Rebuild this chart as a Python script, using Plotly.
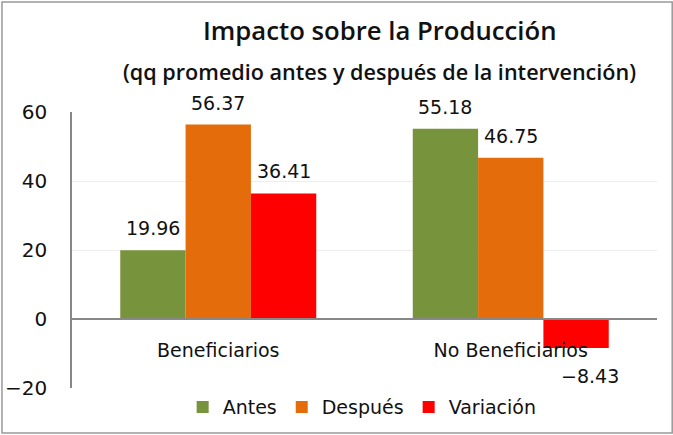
import plotly.graph_objects as go

categories = ["Beneficiarios", "No Beneficiarios"]
antes = [19.96, 55.18]
despues = [56.37, 46.75]
variacion = [36.41, -8.43]
series_names = ["Antes", "Después", "Variación"]
colors = ["#77933C", "#E46C0A", "#FF0000"]
y_ticks = [-20, 0, 20, 40, 60]

FONT = "DejaVu Sans"
BARGAP = 0.33


def fmt(v):
    return f"{v:.2f}".replace("-", "\u2212")


xpos = list(range(len(categories)))
series = [antes, despues, variacion]
n = len(series)
bar_w = (1 - BARGAP) / n

fig = go.Figure()
annotations = []
for k, (name, vals, col) in enumerate(zip(series_names, series, colors)):
    fig.add_trace(go.Bar(
        x=xpos, y=vals, name=name, marker_color=col, marker_line_width=0,
        hoverinfo="skip",
    ))
    off = (k - (n - 1) / 2) * bar_w
    for i, v in enumerate(vals):
        annotations.append(dict(
            x=xpos[i] + off, y=v, xref="x", yref="y", text=fmt(v), showarrow=False,
            xanchor="center", yanchor="middle",
            yshift=22 if v >= 0 else -28, xshift=0 if v >= 0 else 14,
            font=dict(family=FONT, size=19, color="#111111"),
        ))

annotations += [
    dict(text="Impacto sobre la Producción", xref="paper", yref="paper", x=0.526, y=1.2935,
         xanchor="center", yanchor="middle", showarrow=False,
         font=dict(family="Open Sans", size=25.7, weight=600, color="#111111")),
    dict(text="(qq promedio antes y después de la intervención)", xref="paper", yref="paper",
         x=0.526, y=1.145, xanchor="center", yanchor="middle", showarrow=False,
         font=dict(family="Open Sans", size=21.6, weight=600, color="#111111")),
]

fig.update_layout(
    width=673, height=435,
    margin=dict(l=72, r=16, t=112, b=47, autoexpand=False),
    paper_bgcolor="white", plot_bgcolor="white",
    barmode="group", bargap=BARGAP, bargroupgap=0,
    font=dict(family=FONT, size=19, color="#111111"),
    showlegend=True,
    legend=dict(orientation="h", x=0.496, xanchor="center", y=-0.069, yanchor="middle",
                font=dict(family=FONT, size=19), itemwidth=30, traceorder="normal"),
    xaxis=dict(anchor="free", position=0.25, range=[-0.5, len(categories) - 0.5],
               tickvals=xpos, ticktext=categories,
               showline=True, linecolor="#888888", linewidth=1.5,
               ticks="outside", ticklen=14, tickcolor="rgba(0,0,0,0)",
               tickfont=dict(family=FONT, size=19), showgrid=False, zeroline=False),
    yaxis=dict(range=[-20, 60], tickvals=y_ticks, showgrid=True, gridcolor="#eeeeee",
               showline=True, linecolor="#888888", linewidth=1.5, zeroline=False,
               ticks="", tickfont=dict(family=FONT, size=20), ticklabelstandoff=19),
    annotations=annotations,
    shapes=[
        dict(type="rect", xref="paper", yref="paper", x0=-0.1197, x1=1.026, y0=-0.163, y1=1.3986,
             line=dict(color="#999999", width=1.5), layer="below"),
    ],
)

fig.write_html("out.html", config={"displayModeBar": False},
               post_script="document.body.style.margin='0px';")
